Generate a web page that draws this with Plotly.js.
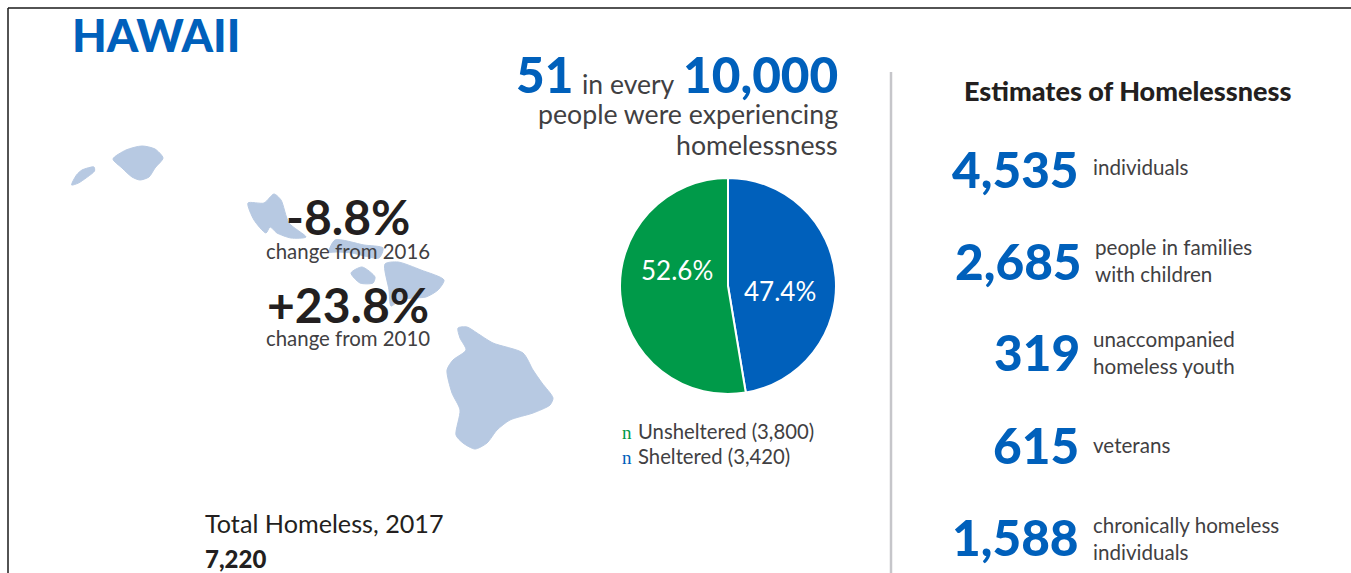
<!DOCTYPE html>
<html>
<head>
<meta charset="utf-8">
<script src="https://cdn.plot.ly/plotly-3.0.1.min.js"></script>
<style>html,body{margin:0;padding:0;background:#fff;overflow:hidden}#chart{width:1351px;height:573px}</style>
</head>
<body>
<div id="chart"></div>
<script>
// Point-in-time counts for the state
const stateName = 'HAWAII';
const shelterCategories = ['Sheltered', 'Unsheltered'];
const shelterCounts = [3420, 3800];
const changeLabels = ['-8.8%', '+23.8%'];
const changeNotes = ['change from 2016', 'change from 2010'];
const ratePerTenThousand = 51;
const rateBase = 10000;
const estimateValues = [4535, 2685, 319, 615, 1588];
const estimateNotes = [
  'individuals',
  'people in families<br>with children',
  'unaccompanied<br>homeless youth',
  'veterans',
  'chronically homeless<br>individuals'
];

// Island outlines, in the same page-sized coordinate system as the axes
const niihau = [[71.6,185],[76.5,175],[82,170],[94,167],[94.5,171],[86,178],[78.5,183]];
const kauai = [[113,159],[126,150],[142,146],[155,149],[163,158],[155,168],[149,177],[140,180],[132,177],[122,168]];
const oahu = [[248,203],[264,203],[274,194],[281,200],[289,223],[306,237],[291,238],[277,233],[270,227],[266,233],[254,220]];
const molokai = [[329,252],[335,240],[364,245],[383,248],[379,258],[352,253],[337,252]];
const lanai = [[351,273],[362,267],[375,277],[373,283],[360,283]];
const maui = [[385,264],[398,262],[421,270],[444,280],[438,290],[426,297],[413,298],[400,300],[391,306],[389,290]];
const bigIsland = [[458,328],[467,327],[477,333],[493,343],[523,353],[533,370],[542,383],[553,398],[550,405],[533,413],[510,420],[497,430],[487,443],[475,449],[463,443],[456,435],[460,410],[452,393],[447,370],[453,360],[466,350],[460,338]];
const islands = [niihau, kauai, oahu, molokai, lanai, maui, bigIsland];

const W = 1351, H = 573;
const BLUE = '#0060bb', GREEN = '#009a49', INK = '#231f20', GREY = '#414042', LAND = '#b7c9e2';
const SANS = 'Lato, "Open Sans", sans-serif';
const fmt = n => n.toLocaleString('en-US');
const total = shelterCounts[0] + shelterCounts[1];
const pct = n => (100 * n / total).toFixed(1) + '%';

function label(text, x, y, size, color, anchor, weight) {
  return {
    text, x, y, xref: 'x', yref: 'y', showarrow: false,
    xanchor: anchor || 'left', yanchor: 'middle', align: anchor || 'left',
    borderpad: 0, borderwidth: 0,
    font: {family: SANS, size, color, weight: weight || 400}
  };
}

const islandTraces = islands.map(pts => ({
  type: 'scatter', mode: 'lines', fill: 'toself', fillcolor: LAND,
  x: pts.map(p => p[0]).concat(pts[0][0]),
  y: pts.map(p => p[1]).concat(pts[0][1]),
  line: {color: LAND, width: 1, shape: 'spline', smoothing: 0.7},
  hoverinfo: 'skip', showlegend: false
}));

const pie = {
  type: 'pie', labels: shelterCategories, values: shelterCounts,
  sort: false, direction: 'clockwise', rotation: 0,
  marker: {colors: [BLUE, GREEN], line: {color: '#ffffff', width: 2}},
  textinfo: 'none',
  domain: {x: [620 / W, 836 / W], y: [1 - 394 / H, 1 - 178 / H]},
  hoverinfo: 'label+value+percent', showlegend: false
};

const rowY = [169, 261, 352, 445, 537];
const numberRight = [1079, 1082, 1080, 1079, 1079];
const noteLeft = [1093, 1095, 1093, 1093, 1093];
const noteY = [167, 260, 352, 445, 538];

const annotations = [
  label(stateName, 72, 35, 45, BLUE, 'left', 900),
  label(String(ratePerTenThousand), 573, 74, 49.5, BLUE, 'right', 900),
  label('in every', 582, 84, 26.5, GREY),
  label(fmt(rateBase), 838, 74, 49.5, BLUE, 'right', 900),
  label('people were experiencing', 838, 114, 26.7, GREY, 'right'),
  label('homelessness', 838, 145, 26.7, GREY, 'right'),
  label(changeLabels[0], 348, 216, 48, INK, 'center', 700),
  label(changeNotes[0], 348, 251, 20.4, GREY, 'center'),
  label(changeLabels[1], 348, 304, 48, INK, 'center', 700),
  label(changeNotes[1], 348, 338, 20.4, GREY, 'center'),
  label('Total Homeless, 2017', 205, 523, 25.2, INK),
  label(fmt(total), 205, 558, 24, INK, 'left', 900),
  label('Estimates of Homelessness', 1127.5, 90, 27, INK, 'center', 900),
  label('n', 622, 432, 19, GREEN),
  label(shelterCategories[1] + ' (' + fmt(shelterCounts[1]) + ')', 638, 431, 20.3, GREY),
  label('n', 622, 457, 19, BLUE),
  label(shelterCategories[0] + ' (' + fmt(shelterCounts[0]) + ')', 638, 456, 20.3, GREY),
  label(pct(shelterCounts[1]), 677, 270, 26, '#ffffff', 'center', 400),
  label(pct(shelterCounts[0]), 780, 291, 26, '#ffffff', 'center', 400)
];
annotations[13].font.family = '"Liberation Serif", serif';
annotations[15].font.family = '"Liberation Serif", serif';

estimateValues.forEach((v, i) => {
  annotations.push(label(fmt(v), numberRight[i], rowY[i], 49.5, BLUE, 'right', 900));
  annotations.push(label(estimateNotes[i], noteLeft[i], noteY[i], 20.6, GREY));
});

const layout = {
  width: W, height: H,
  margin: {l: 0, r: 0, t: 0, b: 0},
  paper_bgcolor: '#ffffff', plot_bgcolor: 'rgba(0,0,0,0)',
  showlegend: false,
  xaxis: {range: [0, W], visible: false, fixedrange: true},
  yaxis: {range: [H, 0], visible: false, fixedrange: true},
  annotations,
  shapes: [
    {type: 'line', xref: 'x', yref: 'y', x0: 891, x1: 891, y0: 72, y1: 573, line: {color: '#c6c6ca', width: 2.5}},
    {type: 'line', xref: 'x', yref: 'y', x0: 8, x1: 8, y0: 8, y1: 573, line: {color: '#1a1a1a', width: 1.5}},
    {type: 'line', xref: 'x', yref: 'y', x0: 8, x1: 1351, y0: 8, y1: 8, line: {color: '#1a1a1a', width: 1.5}}
  ]
};

Plotly.newPlot('chart', islandTraces.concat([pie]), layout, {displayModeBar: false, staticPlot: true});
</script>
</body>
</html>
